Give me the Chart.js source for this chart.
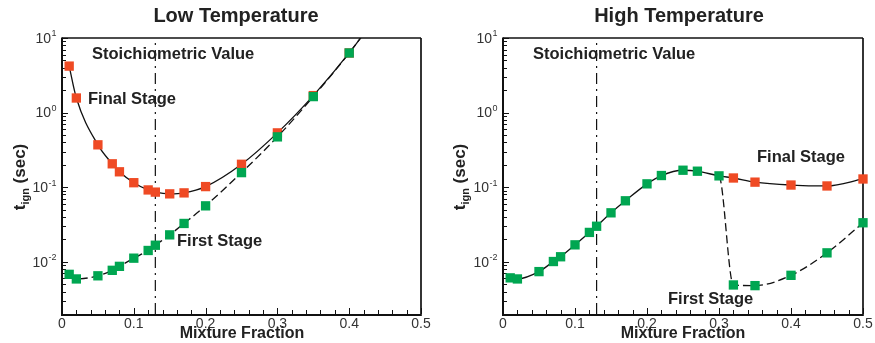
<!DOCTYPE html>
<html><head><meta charset="utf-8">
<script src="https://cdn.jsdelivr.net/npm/chart.js@4.4.1/dist/chart.umd.min.js"></script>
<style>
html,body{margin:0;padding:0;background:#fff;}
#wrap{position:relative;width:875px;height:343px;overflow:hidden;background:#fff;}
canvas{position:absolute;top:0;}
</style></head><body>
<div id="wrap">
<canvas id="low" width="440" height="343" style="left:0"></canvas>
<canvas id="high" width="435" height="343" style="left:440px"></canvas>
</div>
<script>
// ---------- data ----------
const lowX     = [0.01, 0.02, 0.05, 0.07, 0.08, 0.10, 0.12, 0.13, 0.15, 0.17, 0.20, 0.25, 0.30, 0.35, 0.40, 0.45];
const lowFinal = [4.2, 1.57, 0.37, 0.206, 0.161, 0.115, 0.092, 0.086, 0.0815, 0.084, 0.102, 0.203, 0.535, 1.69, 6.3, 28];
const lowFirst = [0.0068, 0.0059, 0.0065, 0.0077, 0.0087, 0.0112, 0.0142, 0.0167, 0.023, 0.0327, 0.0563, 0.157, 0.473, 1.64, 6.3, 28];

const highX     = [0.01, 0.02, 0.05, 0.07, 0.08, 0.10, 0.12, 0.13, 0.15, 0.17, 0.20, 0.22, 0.25, 0.27, 0.30, 0.32, 0.35, 0.40, 0.45, 0.50];
const highFirst = [0.0061, 0.0059, 0.0074, 0.0101, 0.0117, 0.0169, 0.0248, 0.030, 0.0454, 0.0658, 0.111, 0.1435, 0.169, 0.164, 0.142, 0.0049, 0.0048, 0.0066, 0.0132, 0.0334];
const highFinal = [0.0061, 0.0059, 0.0074, 0.0101, 0.0117, 0.0169, 0.0248, 0.030, 0.0454, 0.0658, 0.111, 0.1435, 0.169, 0.164, 0.142, 0.133, 0.117, 0.107, 0.104, 0.129];

const STOICH = 0.13;
const xTickValues = [0, 0.1, 0.2, 0.3, 0.4, 0.5];
const xTickLabels = ['0', '0.1', '0.2', '0.3', '0.4', '0.5'];
const yTickValues = [0.01, 0.1, 1, 10];
const yTickExponents = ['-2', '-1', '0', '1'];
const Y_MIN = 0.002, Y_MAX = 10;
const X_MIN = 0, X_MAX = 0.5;

// ---------- style ----------
const RED = '#EF4A24';
const GREEN = '#00A651';
const INK = '#222';
const FONT = '"Liberation Sans", Arial, Helvetica, sans-serif';

function pts(xs, ys) { return xs.map((x, i) => ({x: x, y: ys[i]})); }

function framePlugin(cfg) {
  return {
    id: 'frame_' + cfg.id,
    beforeDatasetsDraw(chart) {
      const {ctx, chartArea: a, scales: {x, y}} = chart;
      ctx.save();
      ctx.strokeStyle = '#111';
      ctx.lineWidth = 1;
      for (let e = -3; e <= 1; e++) {
        for (let m = 1; m <= 9; m++) {
          const v = m * Math.pow(10, e);
          if (v < Y_MIN - 1e-12 || v > Y_MAX + 1e-12) continue;
          const py = Math.round(y.getPixelForValue(v)) + 0.5;
          const len = m === 1 ? 6 : 4;
          ctx.beginPath(); ctx.moveTo(a.left, py); ctx.lineTo(a.left + len, py); ctx.stroke();
        }
      }
      for (let k = 0; k <= 25; k++) {
        const v = k * 0.02;
        const px = Math.round(x.getPixelForValue(v)) + 0.5;
        const len = (k % 5 === 0) ? 6 : 4;
        ctx.beginPath(); ctx.moveTo(px, a.bottom); ctx.lineTo(px, a.bottom - len); ctx.stroke();
      }
      ctx.lineWidth = 1.3;
      ctx.beginPath(); ctx.moveTo(a.left, a.top); ctx.lineTo(a.right, a.top); ctx.stroke();
      ctx.lineWidth = 1.7;
      ctx.beginPath(); ctx.moveTo(a.right, a.top); ctx.lineTo(a.right, a.bottom); ctx.stroke();
      ctx.lineWidth = 2;
      ctx.beginPath(); ctx.moveTo(a.left, a.top - 0.6); ctx.lineTo(a.left, a.bottom + 1); ctx.lineTo(a.right + 0.8, a.bottom + 1); ctx.stroke();
      ctx.restore();
    },
    afterDraw(chart) {
      const {ctx, chartArea: a, scales: {y}} = chart;
      ctx.save();
      ctx.fillStyle = INK;
      yTickValues.forEach((v, i) => {
        const py = y.getPixelForValue(v);
        ctx.font = '9px ' + FONT;
        ctx.textBaseline = 'middle';
        ctx.textAlign = 'right';
        const exp = yTickExponents[i];
        const right = a.left - 5.5;
        ctx.fillStyle = '#333';
        ctx.fillText(exp, right, py - 4);
        const ew = ctx.measureText(exp).width;
        ctx.font = '14px ' + FONT;
        ctx.fillText('10', right - ew - 0.5, py + 1);
      });
      ctx.fillStyle = INK;
      ctx.font = 'bold 20px ' + FONT;
      ctx.textAlign = 'center';
      ctx.textBaseline = 'middle';
      ctx.fillText(cfg.title, cfg.titleX, 16);
      ctx.font = 'bold 16px ' + FONT;
      ctx.fillText('Mixture Fraction', cfg.xTitleX, 334);
      ctx.font = 'bold 16.5px ' + FONT;
      ctx.textAlign = 'left';
      cfg.notes.forEach(n => ctx.fillText(n.text, n.x, n.y));
      // y axis title (rotated, with subscript)
      ctx.translate(cfg.yTitleX, 177);
      ctx.rotate(-Math.PI / 2);
      ctx.textBaseline = 'alphabetic';
      ctx.font = 'bold 17px ' + FONT;
      const wT = ctx.measureText('t').width;
      const wS = ctx.measureText(' (sec)').width;
      ctx.font = 'bold 11px ' + FONT;
      const wI = ctx.measureText('ign').width;
      let sx = -(wT + wI + wS) / 2;
      ctx.font = 'bold 17px ' + FONT;
      ctx.fillText('t', sx, 5); sx += wT;
      ctx.font = 'bold 11px ' + FONT;
      ctx.fillText('ign', sx, 8.5); sx += wI;
      ctx.font = 'bold 17px ' + FONT;
      ctx.fillText(' (sec)', sx, 5);
      ctx.restore();
    }
  };
}

function scalesCfg(yWidth) {
  return {
    x: {
      type: 'linear', min: X_MIN, max: X_MAX,
      afterBuildTicks: s => { s.ticks = xTickValues.map(v => ({value: v})); },
      ticks: {
        callback: (v, i) => xTickLabels[i],
        font: {family: FONT, size: 14}, color: '#333', padding: 2,
        maxRotation: 0, autoSkip: false
      },
      grid: {display: false, drawTicks: false},
      border: {display: false},
      afterFit: s => { s.height = 29; }
    },
    y: {
      type: 'logarithmic', min: Y_MIN, max: Y_MAX,
      ticks: {display: false},
      grid: {display: false, drawTicks: false},
      border: {display: false},
      afterFit: s => { s.width = yWidth; }
    }
  };
}

const CLIP = {left: 8, right: 8, top: 0, bottom: 8};
const MARK = 6.6;

function baseLine(extra) {
  return Object.assign({
    borderColor: '#111', borderWidth: 1.3, pointStyle: 'rect', pointRadius: MARK,
    pointBorderWidth: 0, pointHoverRadius: MARK, cubicInterpolationMode: 'monotone',
    clip: CLIP, fill: false
  }, extra);
}

function stoichLine() {
  return {
    data: [{x: STOICH, y: Y_MIN}, {x: STOICH, y: Y_MAX}],
    borderColor: '#111', borderWidth: 1.2, borderDash: [11, 5, 2, 5],
    pointRadius: 0, fill: false, clip: CLIP
  };
}

new Chart(document.getElementById('low'), {
  type: 'line',
  data: {
    datasets: [
      baseLine({label: 'First Stage', data: pts(lowX, lowFirst), borderDash: [8, 4], pointBackgroundColor: GREEN}),
      baseLine({label: 'Final Stage', data: pts(lowX, lowFinal), pointBackgroundColor: RED}),
      stoichLine()
    ]
  },
  options: {
    responsive: false, animation: false, devicePixelRatio: 1,
    layout: {padding: {top: 38, right: 19, left: 0, bottom: 0}},
    plugins: {legend: {display: false}, tooltip: {enabled: false}, title: {display: false}},
    scales: scalesCfg(62)
  },
  plugins: [framePlugin({
    id: 'low', title: 'Low Temperature', titleX: 236, xTitleX: 242, yTitleX: 20,
    notes: [
      {text: 'Stoichiometric Value', x: 92, y: 54},
      {text: 'Final Stage', x: 88, y: 99},
      {text: 'First Stage', x: 177, y: 241}
    ]
  })]
});

new Chart(document.getElementById('high'), {
  type: 'line',
  data: {
    datasets: [
      baseLine({
        label: 'First Stage', data: pts(highX, highFirst), borderDash: [8, 4], pointBackgroundColor: GREEN,
        segment: {
          borderColor: c => (highFirst[c.p1DataIndex] === highFinal[c.p1DataIndex] ? 'rgba(0,0,0,0)' : '#111')
        }
      }),
      baseLine({
        label: 'Final Stage', data: pts(highX, highFinal), pointBackgroundColor: RED,
        pointRadius: c => (highFirst[c.dataIndex] === highFinal[c.dataIndex] ? 0 : MARK)
      }),
      stoichLine()
    ]
  },
  options: {
    responsive: false, animation: false, devicePixelRatio: 1,
    layout: {padding: {top: 38, right: 12, left: 0, bottom: 0}},
    plugins: {legend: {display: false}, tooltip: {enabled: false}, title: {display: false}},
    scales: scalesCfg(63)
  },
  plugins: [framePlugin({
    id: 'high', title: 'High Temperature', titleX: 239, xTitleX: 243, yTitleX: 20,
    notes: [
      {text: 'Stoichiometric Value', x: 93, y: 54},
      {text: 'Final Stage', x: 317, y: 157},
      {text: 'First Stage', x: 228, y: 299}
    ]
  })]
});
</script>
</body></html>
